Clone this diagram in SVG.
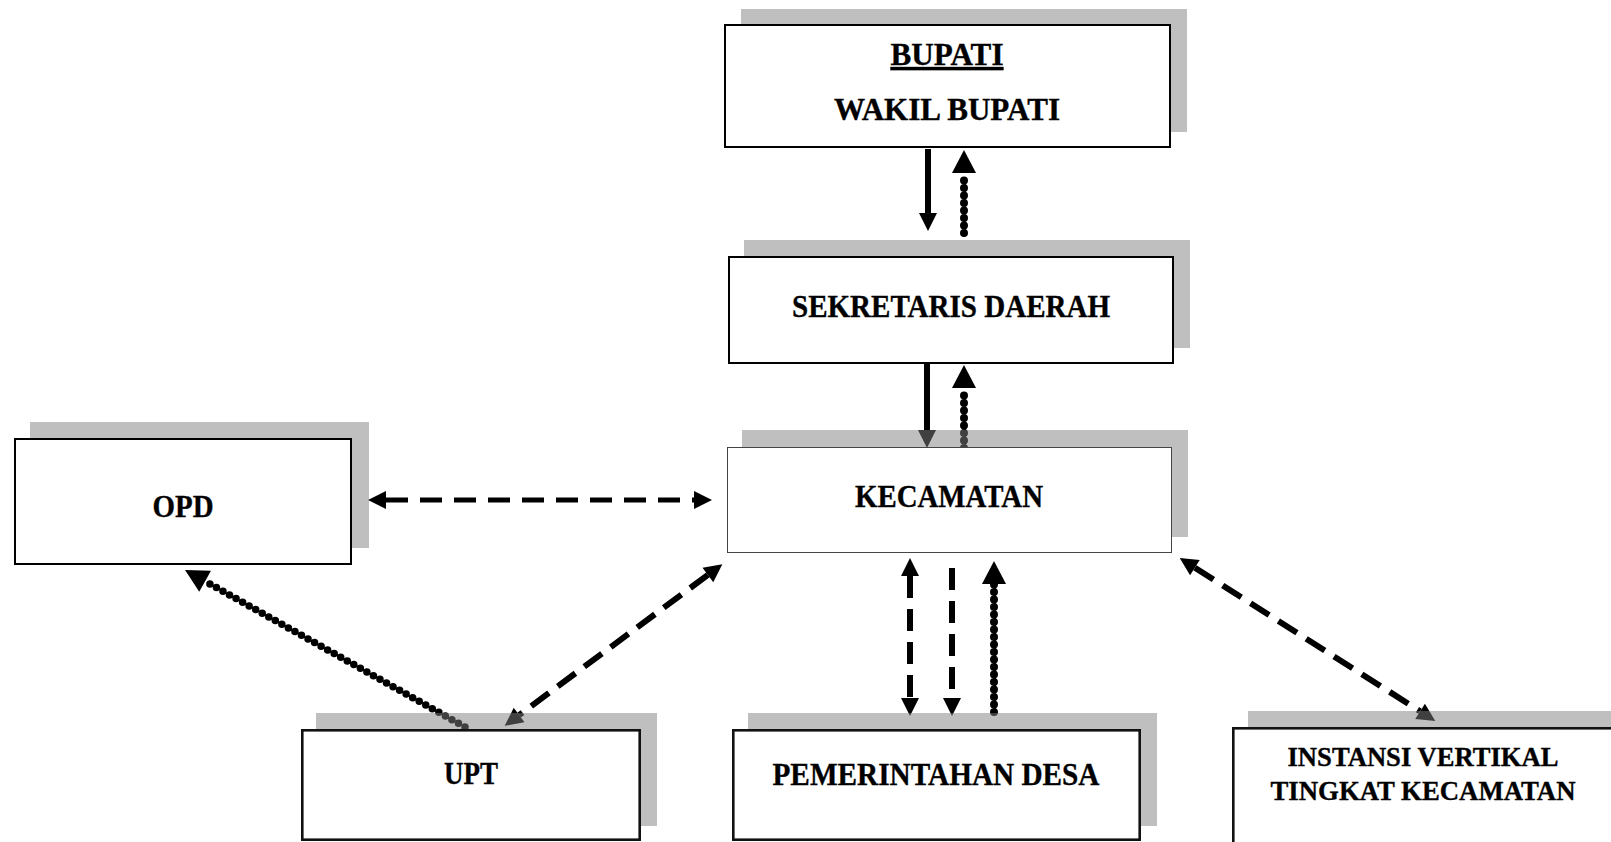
<svg xmlns="http://www.w3.org/2000/svg" width="1611" height="842" viewBox="0 0 1611 842">
<style>
.shadow{fill:#808080;fill-opacity:0.5;stroke:none}
.box{fill:#ffffff;stroke:#000000;stroke-width:2}
.box-thin{fill:#ffffff;stroke:#444444;stroke-width:1}
.box-thick{fill:#ffffff;stroke:#111111;stroke-width:2.6}
.lbl{font-family:"Liberation Serif","Times New Roman",serif;font-weight:bold;font-size:31px;fill:#000000;stroke:#000000;stroke-width:0.35;text-anchor:middle}
.lbl-s{font-size:27px}
.solid{fill:none;stroke:#000000;stroke-width:6}
.dash{fill:none;stroke:#000000;stroke-width:6;stroke-dasharray:22 11}
.dash-h{fill:none;stroke:#000000;stroke-width:5;stroke-dasharray:22 12}
.dot{fill:none;stroke:#000000;stroke-width:8;stroke-linecap:round;stroke-dasharray:0 7.5}
.dot-d{fill:none;stroke:#000000;stroke-width:7.5;stroke-linecap:round;stroke-dasharray:0 7.5}
</style>
<defs>
<marker id="ah" markerUnits="userSpaceOnUse" markerWidth="20" markerHeight="20" refX="0" refY="0" orient="auto-start-reverse" overflow="visible">
<path d="M0,-9 L18,0 L0,9 Z" fill="#000000"/>
</marker>
<marker id="ahd" markerUnits="userSpaceOnUse" markerWidth="24" markerHeight="24" refX="0" refY="0" orient="auto-start-reverse" overflow="visible">
<path d="M0,-12 L23,0 L0,12 Z" fill="#000000"/>
</marker>
</defs>

<g id="connectors">
<path class="solid" d="M928,149 L928,213" marker-end="url(#ah)"/>
<path class="dot" d="M964,233 L964,173" marker-end="url(#ahd)"/>
<path class="solid" d="M927,364 L927,430" marker-end="url(#ah)"/>
<path class="dot" d="M964,448 L964,388" marker-end="url(#ahd)"/>
<path class="dash-h" d="M386,500 L694,500" marker-start="url(#ah)" marker-end="url(#ah)"/>
<path class="dash" d="M707.9,574.9 L519.1,715.1" marker-start="url(#ah)" marker-end="url(#ah)"/>
<path class="dot-d" d="M465,727 L205.1,581.2" marker-end="url(#ahd)"/>
<path class="dash" d="M910,576 L910,698" marker-start="url(#ah)" marker-end="url(#ah)"/>
<path class="dash" d="M952,568 L952,698" marker-end="url(#ah)"/>
<path class="dot" d="M994,712 L994,584" marker-end="url(#ahd)"/>
<path class="dash" d="M1194.9,567.7 L1420.1,711.3" marker-start="url(#ah)" marker-end="url(#ah)"/>
</g>

<g id="bupati">
<rect class="shadow" x="741" y="9" width="446" height="123"/>
<rect class="box" x="725" y="25" width="445" height="122"/>
<text class="lbl" x="947" y="65" textLength="113" lengthAdjust="spacingAndGlyphs" text-decoration="underline">BUPATI</text>
<text class="lbl" x="947" y="120" textLength="226" lengthAdjust="spacingAndGlyphs">WAKIL BUPATI</text>
</g>

<g id="sekretaris-daerah">
<rect class="shadow" x="744" y="240" width="446" height="108"/>
<rect class="box" x="729" y="257" width="444" height="106"/>
<text class="lbl" x="951" y="317" textLength="318" lengthAdjust="spacingAndGlyphs">SEKRETARIS DAERAH</text>
</g>

<g id="kecamatan">
<rect class="shadow" x="742" y="430" width="446" height="107"/>
<rect class="box-thin" x="727.5" y="447.5" width="444" height="105"/>
<text class="lbl" x="949" y="507" textLength="188" lengthAdjust="spacingAndGlyphs">KECAMATAN</text>
</g>

<g id="opd">
<rect class="shadow" x="30" y="422" width="339" height="126"/>
<rect class="box" x="15" y="439" width="336" height="125"/>
<text class="lbl" x="183" y="517" textLength="61" lengthAdjust="spacingAndGlyphs">OPD</text>
</g>

<g id="upt">
<rect class="shadow" x="316" y="713" width="341" height="113"/>
<rect class="box-thick" x="302.3" y="730.3" width="337.4" height="109.4"/>
<text class="lbl" x="471" y="784" textLength="54" lengthAdjust="spacingAndGlyphs">UPT</text>
</g>

<g id="pemerintahan-desa">
<rect class="shadow" x="748" y="713" width="409" height="113"/>
<rect class="box-thick" x="733.3" y="730.3" width="406.4" height="109.4"/>
<text class="lbl" x="936" y="785" textLength="327" lengthAdjust="spacingAndGlyphs">PEMERINTAHAN DESA</text>
</g>

<g id="instansi-vertikal">
<rect class="shadow" x="1248" y="711" width="382" height="115"/>
<rect class="box-thick" x="1233.3" y="728.3" width="380" height="120"/>
<text class="lbl lbl-s" x="1423" y="766" textLength="271" lengthAdjust="spacingAndGlyphs">INSTANSI VERTIKAL</text>
<text class="lbl lbl-s" x="1423" y="800" textLength="305" lengthAdjust="spacingAndGlyphs">TINGKAT KECAMATAN</text>
</g>
</svg>
